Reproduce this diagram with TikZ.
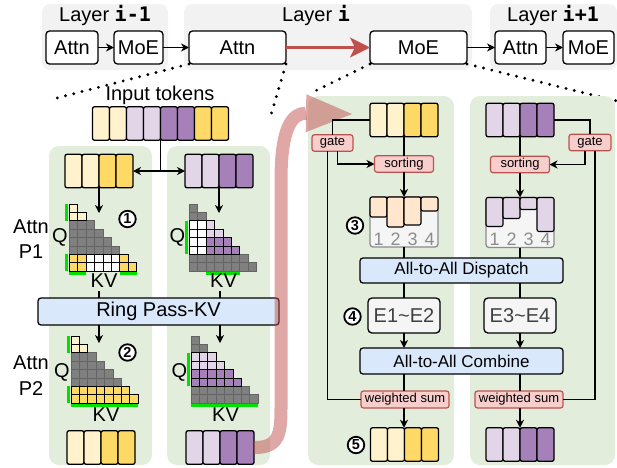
\documentclass[tikz,border=0pt]{standalone}
\usepackage{fontspec}
\setmainfont{Liberation Sans}
\setmonofont{DejaVu Sans Mono}
\usetikzlibrary{arrows.meta,fit,calc}

\definecolor{ly}{HTML}{FFF2CC}
\definecolor{dy}{HTML}{FFD966}
\definecolor{lp}{HTML}{E1D5E7}
\definecolor{dp}{HTML}{A680B8}
\definecolor{peach}{HTML}{FFE6CC}
\definecolor{bluebox}{HTML}{DAE8FC}
\definecolor{pinkfill}{HTML}{F8CECC}
\definecolor{pinkdraw}{HTML}{B85450}
\definecolor{panelgreen}{RGB}{226,237,220}
\definecolor{layergray}{RGB}{242,242,242}
\definecolor{cellgray}{RGB}{128,128,128}
\definecolor{cellgrid}{RGB}{100,100,100}
\definecolor{qkvgreen}{RGB}{0,225,0}
\definecolor{flowred}{RGB}{192,80,77}
\definecolor{bucketgray}{RGB}{245,245,245}
\colorlet{cell1}{white}
\colorlet{cell2}{ly}
\colorlet{cell3}{dy}
\colorlet{cell4}{lp}
\colorlet{cell5}{dp}

\newcommand{\fs}[1]{\fontsize{#1}{#1}\selectfont}
\newcommand{\lid}[1]{{\ttfamily\bfseries\fs{20}#1}}

% causal attention grid: codes 0 gray, 1 white, 2..5 token colours
\newcommand{\attgrid}[3]{%
  \foreach \pass in {1,2}{%
    \foreach \rw [count=\ri from 0] in {#3}{%
      \foreach \cc [count=\ci from 0] in \rw{%
        \ifnum\pass=1
          \ifnum\cc=0
            \filldraw[fill=cellgray, draw=cellgrid, line width=0.7pt]
              ({#1+\ci*8.4},{#2+\ri*8.4}) rectangle ++(8.4,8.4);
          \fi
        \else
          \ifnum\cc>0
            \filldraw[fill=cell\cc, draw=black, line width=0.75pt]
              ({#1+\ci*8.4},{#2+\ri*8.4}) rectangle ++(8.4,8.4);
          \fi
        \fi
      }%
    }%
  }%
}

% a row of token cells named #1 1..n
\newcommand{\tokrow}[4]{%
  \foreach \tc [count=\ti] in {#4}{%
    \node[tok, fill=\tc] (#1\ti) at ({#2+8.5+(\ti-1)*17},#3) {};
  }%
}

\begin{document}
\begin{tikzpicture}[x=1pt, y=-1pt,
  every node/.style={inner sep=0pt, outer sep=0pt},
  txt/.style={font=\fs{20}},
  layerbg/.style={fill=layergray, rounded corners=8pt},
  opbox/.style={draw, line width=1.3pt, rounded corners=3.5pt, fill=white, font=\fs{20}, minimum height=33pt},
  tok/.style={draw, line width=1.3pt, rounded corners=2pt, minimum width=17pt, minimum height=33.5pt},
  conn/.style={line width=1.2pt},
  arr/.style={conn, -{Stealth[length=8pt,width=8pt,inset=2.5pt]}},
  panel/.style={fill=panelgreen, rounded corners=10pt},
  pinkbox/.style={draw=pinkdraw, fill=pinkfill, line width=1.2pt, rounded corners=2.5pt, font=\fs{13}},
  bluebar/.style={draw, fill=bluebox, line width=1.3pt, rounded corners=3pt},
  ebox/.style={draw, fill=bucketgray, line width=1.3pt, rounded corners=4pt, text=black!75, font=\fs{20}, minimum width=72pt, minimum height=35pt},
  bucket/.style={draw=black!45, fill=bucketgray, line width=1.3pt, rounded corners=3pt, minimum width=68pt, minimum height=50pt},
  bar/.style={draw, line width=1.2pt, rounded corners=2pt},
  num/.style={circle, draw, line width=1.8pt, fill=white, minimum size=16.5pt, font=\bfseries\fs{14.5}},
  dots/.style={line width=3.2pt, line cap=round, dash pattern=on 0pt off 8.5pt},
  qkv/.style={draw=qkvgreen, line width=3pt},
  fitbox/.style={inner sep=0pt}
]
\useasboundingbox (0,0) rectangle (617,467);

% ---------- layer strip ----------
\fill[layerbg] (42,4) rectangle (168,70);
\fill[layerbg] (184,4) rectangle (472,70);
\fill[layerbg] (490,4) rectangle (617,70);
\node[txt, anchor=base] (l1) at (105,21) {Layer \lid{i-1}};
\node[txt, anchor=base] (l2) at (316,21) {Layer \lid{i}};
\node[txt, anchor=base] (l3) at (553,21) {Layer \lid{i+1}};

\node[opbox, minimum width=52pt] (at1) at (72,47.5) {Attn};
\node[opbox, minimum width=49pt] (mo1) at (138.5,47.5) {MoE};
\node[opbox, minimum width=97pt] (at2) at (237.5,47.5) {Attn};
\node[opbox, minimum width=97pt] (mo2) at (418.5,47.5) {MoE};
\node[opbox, minimum width=51pt] (at3) at (520.5,47.5) {Attn};
\node[opbox, minimum width=51pt] (mo3) at (588.5,47.5) {MoE};
\draw[arr] (at1) -- (mo1);
\draw[arr] (mo1) -- (at2);
\draw[line width=3pt, flowred, -{Stealth[length=20pt,width=20pt,inset=5pt]}] (at2) -- (mo2);
\draw[arr] (mo2) -- (at3);
\draw[arr] (at3) -- (mo3);

% zoom guides
\coordinate (zA) at (53,99);
\coordinate (zB) at (270,118);
\coordinate (zC) at (311,93);
\coordinate (zD) at (617,101);
\draw[dots] (at2.south west) -- (zA);
\draw[dots] (at2.south east) -- (zB);
\draw[dots] (mo2.south west) -- (zC);
\draw[dots] (mo2.south east) -- (zD);

% ---------- device panels ----------
\fill[panel] (49,146) rectangle (152,465);
\fill[panel] (167,146) rectangle (270,465);
\fill[panel] (308,96) rectangle (454,465);
\fill[panel] (470,96) rectangle (615,465);

% ---------- attention side ----------
\node[txt, anchor=base] (intxt) at (160,100) {Input tokens};
\tokrow{inp}{92.5}{123.5}{ly,ly,lp,lp,dp,dp,dy,dy}
\node[fitbox, fit=(inp1)(inp8)] (inp) {};

\tokrow{dA}{65}{171}{ly,ly,dy,dy}
\node[fitbox, fit=(dA1)(dA4)] (dA) {};
\tokrow{dB}{185}{171}{lp,lp,dp,dp}
\node[fitbox, fit=(dB1)(dB4)] (dB) {};

\coordinate (split) at (160.5,171);
\draw[conn] (inp.south) -- (split);
\draw[arr] (split) -- (dA.east);
\draw[arr] (split) -- (dB.west);

\coordinate (gA) at (99,213);
\coordinate (gB) at (219,213);
\draw[arr] (dA.south) -- (gA);
\draw[arr] (dB.south) -- (gB);

% phase 1 grids
\attgrid{69.3}{204}{{2},{2,2},{0,0,0},{0,0,0,0},{0,0,0,0,0},{0,0,0,0,0,0},{3,3,1,1,1,1,3},{3,3,1,1,1,1,3,3}}
\attgrid{189.3}{204}{{0},{0,0},{1,1,4},{1,1,4,4},{1,1,5,5,5},{1,1,5,5,5,5},{0,0,0,0,0,0,0},{0,0,0,0,0,0,0,0}}
\draw[qkv] (66.8,204) -- (66.8,220.8);
\draw[qkv] (66.8,254.4) -- (66.8,271.2);
\draw[qkv] (69.3,273.7) -- (86.1,273.7);
\draw[qkv] (119.7,273.7) -- (136.5,273.7);
\draw[qkv] (186.8,220.8) -- (186.8,254.4);
\draw[qkv] (206.1,273.7) -- (239.7,273.7);

% phase 2 grids
\attgrid{71}{336}{{2},{2,2},{0,0,0},{0,0,0,0},{0,0,0,0,0},{0,0,0,0,0,0},{3,3,3,3,3,3,3},{3,3,3,3,3,3,3,3}}
\attgrid{191}{336}{{0},{0,0},{4,4,4},{4,4,4,4},{5,5,5,5,5},{5,5,5,5,5,5},{0,0,0,0,0,0,0},{0,0,0,0,0,0,0,0}}
\draw[qkv] (68.5,336) -- (68.5,352.8);
\draw[qkv] (68.5,386.4) -- (68.5,403.2);
\draw[qkv] (71,405.7) -- (138.2,405.7);
\draw[qkv] (188.5,352.8) -- (188.5,386.4);
\draw[qkv] (191,405.7) -- (258.2,405.7);

\node[txt, anchor=base] (pa1) at (31,233) {Attn};
\node[txt, anchor=base] (pb1) at (31,258) {P1};
\node[txt, anchor=base] (pa2) at (31,369.5) {Attn};
\node[txt, anchor=base] (pb2) at (31,395) {P2};

\node[txt, anchor=base] (q1) at (60,242) {Q};
\node[txt, anchor=base] (kv1) at (104,287.5) {KV};
\node[txt, anchor=base] (q2) at (177.5,242) {Q};
\node[txt, anchor=base] (kv2) at (223.5,287.5) {KV};
\node[txt, anchor=base] (q3) at (62,377) {Q};
\node[txt, anchor=base] (kv3) at (106,421.5) {KV};
\node[txt, anchor=base] (q4) at (179.5,377) {Q};
\node[txt, anchor=base] (kv4) at (225.5,421.5) {KV};

\node[num] (n1) at (127.5,219) {1};
\node[num] (n2) at (127.5,352.5) {2};

\node[bluebar, txt, minimum width=241pt, minimum height=27pt] (ring) at (158.5,311.5) {Ring Pass-KV};
\coordinate (sA) at (99,291);
\coordinate (sB) at (220,291);
\draw[conn] (sA) -- (ring.north -| sA);
\draw[conn] (sB) -- (ring.north -| sB);
\coordinate (hA) at (99,343);
\coordinate (hB) at (220,343);
\draw[arr] (ring.south -| hA) -- (hA);
\draw[arr] (ring.south -| hB) -- (hB);

\tokrow{oA}{67}{447.5}{ly,ly,dy,dy}
\tokrow{oB}{186}{447.5}{lp,lp,dp,dp}
\node[fitbox, fit=(oB1)(oB4)] (oB) {};

% hand-over from attention output to the MoE layer
\coordinate (handoff) at (352,114);
\draw[line width=13pt, draw=flowred, opacity=0.5,
      -{Triangle[length=46pt,width=38pt,line width=0pt]}]
  (oB.east) .. controls (282,448) and (281,430) .. (281,400) -- (281,180)
  .. controls (281,128) and (292,113) .. (handoff);

% ---------- MoE side ----------
\tokrow{mC}{370}{120}{ly,ly,dy,dy}
\node[fitbox, fit=(mC1)(mC4)] (mC) {};
\tokrow{mD}{486}{120}{lp,lp,dp,dp}
\node[fitbox, fit=(mD1)(mD4)] (mD) {};

\node[pinkbox, minimum width=41pt, minimum height=16.5pt] (gateC) at (332.5,143) {gate};
\node[pinkbox, minimum width=59pt, minimum height=16.5pt] (sortC) at (404,164) {sorting};
\node[pinkbox, minimum width=42pt, minimum height=16.5pt] (gateD) at (590,142.5) {gate};
\node[pinkbox, minimum width=59pt, minimum height=16.5pt] (sortD) at (520,164.5) {sorting};

\node[bucket] (bkC) at (404,222) {};
\foreach \h [count=\k from 0] in {20,30,28,14}
  \draw[bar, fill=peach] ({370+17*\k},197) rectangle ++(17,\h);
\foreach \k in {1,...,4}
  \node[font=\fs{18}, text=black!45, anchor=base] at ({361.5+17*\k},245.5) {\k};

\node[bucket] (bkD) at (520,222.5) {};
\foreach \h [count=\k from 0] in {29,21,12,34}
  \draw[bar, fill=lp] ({486+17*\k},197.5) rectangle ++(17,\h);
\foreach \k in {1,...,4}
  \node[font=\fs{18}, text=black!45, anchor=base] at ({477.5+17*\k},245.5) {\k};

\node[bluebar, font=\fs{17}, minimum width=203pt, minimum height=25pt] (disp) at (461.5,270.5) {All-to-All Dispatch};
\node[ebox] (e12) at (404,315.5) {E1\textasciitilde E2};
\node[ebox] (e34) at (520,315.5) {E3\textasciitilde E4};
\node[bluebar, font=\fs{17}, minimum width=203pt, minimum height=26pt] (comb) at (461.5,361) {All-to-All Combine};

\node[pinkbox, minimum width=88pt, minimum height=17pt] (wsC) at (405,399.5) {weighted sum};
\node[pinkbox, minimum width=88pt, minimum height=17pt] (wsD) at (519,399.5) {weighted sum};

\tokrow{rC}{370.5}{444.5}{ly,ly,dy,dy}
\node[fitbox, fit=(rC1)(rC4)] (rC) {};
\tokrow{rD}{486}{444.5}{lp,lp,dp,dp}
\node[fitbox, fit=(rD1)(rD4)] (rD) {};

\node[num] (n3) at (355,225.5) {3};
\node[num] (n4) at (352.5,316.5) {4};
\node[num] (n5) at (356,445) {5};

% device C wiring
\draw[conn] (mC1.west) -| (gateC.north);
\draw[arr] ([xshift=5pt]gateC.south) |- (sortC.west);
\draw[conn] ([xshift=-5pt]gateC.south) |- (wsC.west);
\draw[conn] (mC.south) -- (sortC.north -| mC.south);
\draw[arr] (sortC.south -| mC.south) -- (bkC.north -| mC.south);
\draw[conn] (bkC.south -| mC.south) -- (disp.north -| mC.south);
\draw[conn] (disp.south -| e12.north) -- (e12.north);
\draw[arr] (e12.south) -- (comb.north -| e12.south);
\draw[conn] (comb.south -| mC.south) -- (wsC.north -| mC.south);
\draw[arr] (wsC.south -| mC.south) -- (rC.north -| mC.south);

% device D wiring
\draw[conn] (mD4.east) -| (gateD.north);
\draw[arr] ([xshift=-5pt]gateD.south) |- (sortD.east);
\draw[conn] ([xshift=5pt]gateD.south) |- (wsD.east);
\draw[conn] (mD.south) -- (sortD.north -| mD.south);
\draw[arr] (sortD.south -| mD.south) -- (bkD.north -| mD.south);
\draw[conn] (bkD.south -| mD.south) -- (disp.north -| mD.south);
\draw[conn] (disp.south -| e34.north) -- (e34.north);
\draw[arr] (e34.south) -- (comb.north -| e34.south);
\draw[conn] (comb.south -| mD.south) -- (wsD.north -| mD.south);
\draw[arr] (wsD.south -| mD.south) -- (rD.north -| mD.south);
\end{tikzpicture}
\end{document}
